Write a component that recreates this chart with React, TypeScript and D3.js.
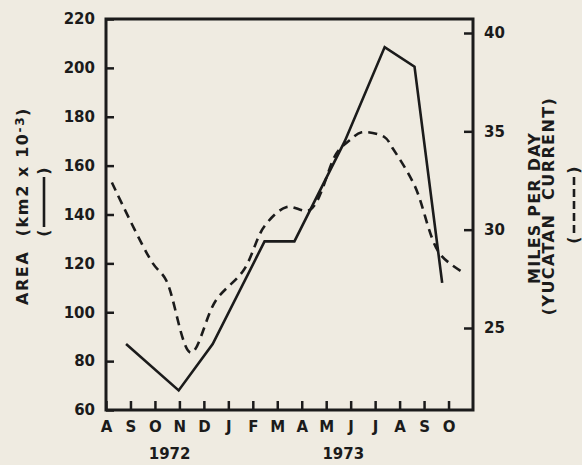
import React, { useEffect, useRef } from 'react';
import * as d3 from 'd3';

// month letters along the bottom (Aug 1972 .. Oct 1973)
const months = ['A', 'S', 'O', 'N', 'D', 'J', 'F', 'M', 'A', 'M', 'J', 'J', 'A', 'S', 'O'];
const years = ['1972', '1973'];
const yearAt = [2.6, 9.7];

// area (km2 x 10-3), solid line
const areaMonth = [0.82, 2.97, 4.36, 6.48, 7.7, 9.76, 11.39, 12.61, 13.74];
const areaValues = [87, 68, 87, 129, 129, 170, 208.5, 200.5, 112];

// miles per day (Yucatan current), dashed line
const currentMonth = [0.24, 1.88, 2.45, 3.47, 4.49, 5.63, 6.49, 7.39, 8.33, 9.43, 9.96, 10.45, 11.39, 11.71, 12.61, 13.63, 14.57];
const currentValues = [32.4, 28.35, 27.45, 23.75, 26.4, 27.95, 30.2, 31.15, 31.0, 33.9, 34.55, 34.95, 34.7, 34.15, 32.25, 28.8, 27.85];

const areaTicks = [60, 80, 100, 120, 140, 160, 180, 200, 220];
const currentTicks = [25, 30, 35, 40];

const ink = '#1b1b1b';
const paper = '#efebe1';
const font = 'DejaVu Sans';

export default function App() {
  const ref = useRef<SVGSVGElement>(null);

  useEffect(() => {
    const width = 582, height = 465;
    const left = 106, right = 473, top = 19, bottom = 410;

    const svg = d3.select(ref.current);
    svg.selectAll('*').remove();

    svg.append('rect').attr('width', width).attr('height', height).attr('fill', paper);

    const x = d3.scaleLinear().domain([0, 15]).range([left, right]);
    const yL = d3.scaleLinear().domain([60, 220]).range([bottom, top]);
    const yR = d3.scaleLinear().domain([25, 40]).range([328, 33]);

    const label = (sel: any, size = 15) =>
      sel.attr('fill', ink).style('font-family', font)
        .style('font-size', size + 'px').style('font-weight', 'bold');

    // axes, ticks pointing inward
    const gL = svg.append('g').attr('transform', `translate(${left},0)`)
      .call(d3.axisLeft(yL).tickValues(areaTicks).tickSize(-8).tickPadding(11).tickFormat(d3.format('d')));
    const gR = svg.append('g').attr('transform', `translate(${right},0)`)
      .call(d3.axisRight(yR).tickValues(currentTicks).tickSize(-9).tickPadding(11));
    const gB = svg.append('g').attr('transform', `translate(0,${bottom})`)
      .call(d3.axisBottom(x).tickValues(d3.range(months.length)).tickSize(-9).tickPadding(11)
        .tickFormat((d) => months[d as number]));

    [gL, gR, gB].forEach((g) => {
      g.select('.domain').remove();
      g.selectAll('line').attr('stroke', ink).attr('stroke-width', 2.5);
      label(g.selectAll('text'));
    });

    // frame
    svg.append('rect')
      .attr('x', left).attr('y', top).attr('width', right - left).attr('height', bottom - top)
      .attr('fill', 'none').attr('stroke', ink).attr('stroke-width', 3);

    const areaLine = d3.line<number>().x((d, i) => x(areaMonth[i])).y((d) => yL(d));
    svg.append('path').datum(areaValues)
      .attr('d', areaLine).attr('fill', 'none').attr('stroke', ink)
      .attr('stroke-width', 2.6).attr('stroke-linejoin', 'miter');

    const currentLine = d3.line<number>().x((d, i) => x(currentMonth[i])).y((d) => yR(d))
      .curve(d3.curveCatmullRom.alpha(0.5));
    svg.append('path').datum(currentValues)
      .attr('d', currentLine).attr('fill', 'none').attr('stroke', ink)
      .attr('stroke-width', 2.6).attr('stroke-dasharray', '9,6');

    // year labels
    label(svg.selectAll('.year').data(years).enter().append('text')
      .attr('x', (d, i) => x(yearAt[i])).attr('y', 459)
      .attr('text-anchor', 'middle'))
      .text((d: string) => d);

    // left title
    const t1 = label(svg.append('text')
      .attr('transform', 'translate(28,206) rotate(-90)')
      .attr('text-anchor', 'middle'), 16)
      .style('letter-spacing', '1.6px').style('white-space', 'pre');
    t1.append('tspan').text('AREA  (km2 x 10');
    t1.append('tspan').attr('dy', -4).style('font-size', '12px').text('-3');
    t1.append('tspan').attr('dy', 4).text(')');

    // left legend key (solid)
    const k1 = svg.append('g').attr('transform', 'translate(44,202) rotate(-90)');
    label(k1.append('text').attr('x', -31).attr('y', 5).attr('text-anchor', 'middle'), 16).text('(');
    label(k1.append('text').attr('x', 31).attr('y', 5).attr('text-anchor', 'middle'), 16).text(')');
    k1.append('line').attr('x1', -25).attr('x2', 25).attr('y1', 0).attr('y2', 0)
      .attr('stroke', ink).attr('stroke-width', 2.6);

    // right titles
    const rightTitles = ['MILES PER DAY', '(YUCATAN  CURRENT)'];
    const rightX = [540, 554];
    const rightY = [208, 206];
    const rightSpacing = [1.2, 1.4];
    label(svg.selectAll('.rt').data(rightTitles).enter().append('text')
      .attr('transform', (d, i) => `translate(${rightX[i]},${rightY[i]}) rotate(-90)`)
      .attr('text-anchor', 'middle'), 16)
      .style('letter-spacing', (d: string, i: number) => rightSpacing[i] + 'px')
      .style('white-space', 'pre')
      .text((d: string) => d);

    // right legend key (dashed)
    const k2 = svg.append('g').attr('transform', 'translate(574,205) rotate(-90)');
    label(k2.append('text').attr('x', -35).attr('y', 5).attr('text-anchor', 'middle'), 16).text('(');
    label(k2.append('text').attr('x', 35).attr('y', 5).attr('text-anchor', 'middle'), 16).text(')');
    k2.append('line').attr('x1', -28).attr('x2', 28).attr('y1', 0).attr('y2', 0)
      .attr('stroke', ink).attr('stroke-width', 2.6).attr('stroke-dasharray', '8,4');
  }, []);

  return (
    <svg ref={ref} width={582} height={465}
      style={{ position: 'absolute', left: 0, top: 0, display: 'block' }} />
  );
}
